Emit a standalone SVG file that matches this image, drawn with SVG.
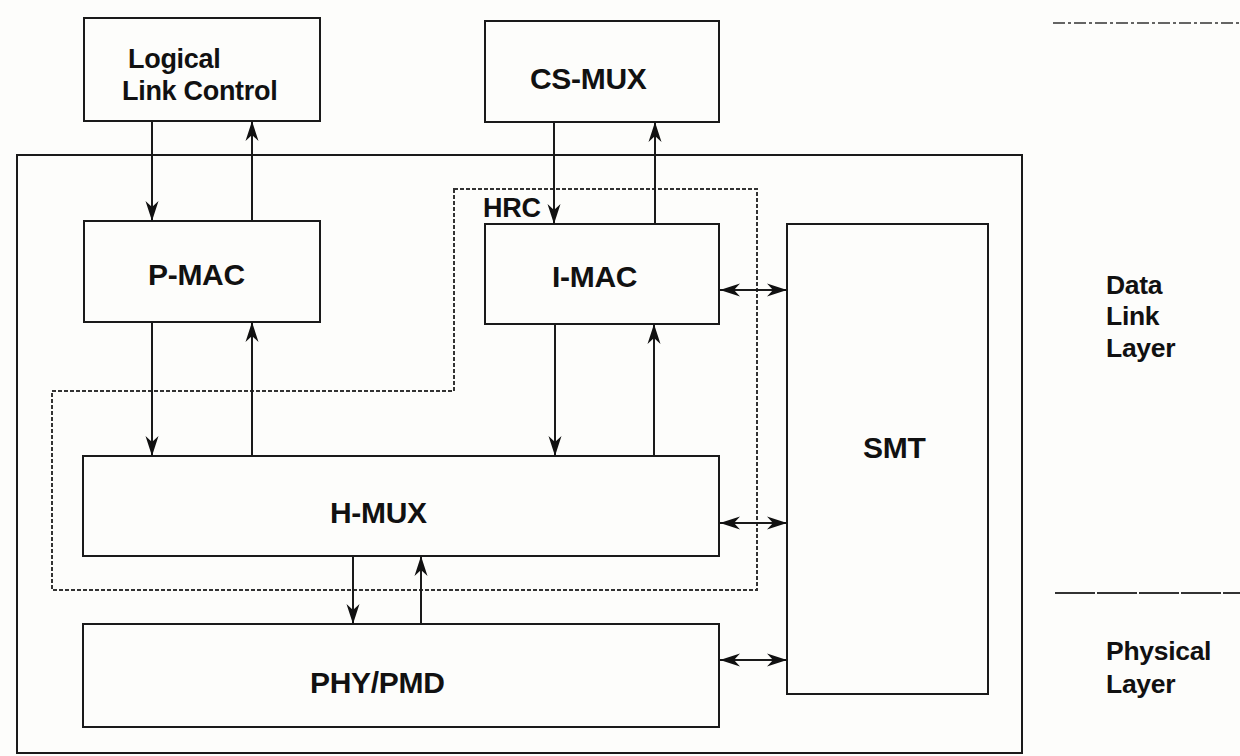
<svg xmlns="http://www.w3.org/2000/svg" width="1240" height="756" viewBox="0 0 1240 756">
<style>
.box{fill:none;stroke:#1a1a1a;stroke-width:2}
.lbl{font-family:"Liberation Sans",Arial,sans-serif;font-weight:bold;font-size:30px;fill:#111;letter-spacing:-0.3px}
.sm{font-size:27px}
.side{font-size:26.5px}
.con{stroke:#1a1a1a;stroke-width:2;fill:none}
.hrc{fill:none;stroke:#333;stroke-width:2;stroke-dasharray:4 2}
</style>
<defs>
<marker id="ah" markerUnits="userSpaceOnUse" markerWidth="22" markerHeight="16" refX="20" refY="8" orient="auto-start-reverse">
<path d="M0,1.5 L20,8 L0,14.5 L6,8 z" fill="#111"/>
</marker>
</defs>
<rect width="1240" height="756" fill="#fdfdfb"/>
<g id="layer-lines">
<line x1="1053" y1="23" x2="1240" y2="23" stroke="#333" stroke-width="1.5" stroke-dasharray="12 3 3 3"/>
<line x1="1055" y1="593" x2="1240" y2="593" stroke="#333" stroke-width="2" stroke-dasharray="40 2"/>
</g>
<g id="outer"><rect class="box" x="17" y="155" width="1005" height="598"/></g>
<g id="hrc">
<path class="hrc" d="M454,189 H757 V590 H52 V391 H454 Z"/>
<text class="lbl sm" x="483" y="217">HRC</text>
</g>
<g id="llc"><rect class="box" x="84" y="18" width="236" height="103"/>
<text class="lbl sm" x="128" y="68">Logical</text><text class="lbl sm" x="122" y="100">Link Control</text></g>
<g id="csmux"><rect class="box" x="485" y="21" width="234" height="101"/>
<text class="lbl" x="530" y="89">CS-MUX</text></g>
<g id="pmac"><rect class="box" x="84" y="221" width="236" height="101"/>
<text class="lbl" x="148" y="285">P-MAC</text></g>
<g id="imac"><rect class="box" x="485" y="224" width="234" height="100"/>
<text class="lbl" x="552" y="287">I-MAC</text></g>
<g id="smt"><rect class="box" x="787" y="224" width="201" height="470"/>
<text class="lbl" x="863" y="458">SMT</text></g>
<g id="hmux"><rect class="box" x="83" y="456" width="636" height="100"/>
<text class="lbl" x="330" y="523">H-MUX</text></g>
<g id="phy"><rect class="box" x="83" y="624" width="636" height="103"/>
<text class="lbl" x="310" y="693">PHY/PMD</text></g>
<g id="dll-label"><text class="lbl side" x="1106" y="294">Data</text><text class="lbl side" x="1106" y="325">Link</text><text class="lbl side" x="1106" y="357">Layer</text></g>
<g id="phys-label"><text class="lbl side" x="1106" y="660">Physical</text><text class="lbl side" x="1106" y="693">Layer</text></g>
<g id="connectors">
<line class="con" x1="152" y1="121" x2="152" y2="221" marker-end="url(#ah)"/>
<line class="con" x1="252" y1="221" x2="252" y2="121" marker-end="url(#ah)"/>
<line class="con" x1="554" y1="122" x2="554" y2="224" marker-end="url(#ah)"/>
<line class="con" x1="655" y1="224" x2="655" y2="122" marker-end="url(#ah)"/>
<line class="con" x1="152" y1="322" x2="152" y2="456" marker-end="url(#ah)"/>
<line class="con" x1="252" y1="456" x2="252" y2="322" marker-end="url(#ah)"/>
<line class="con" x1="555" y1="324" x2="555" y2="456" marker-end="url(#ah)"/>
<line class="con" x1="654" y1="456" x2="654" y2="324" marker-end="url(#ah)"/>
<line class="con" x1="353" y1="556" x2="353" y2="624" marker-end="url(#ah)"/>
<line class="con" x1="421" y1="624" x2="421" y2="556" marker-end="url(#ah)"/>
<line class="con" x1="720" y1="290" x2="787" y2="290" marker-start="url(#ah)" marker-end="url(#ah)"/>
<line class="con" x1="720" y1="523" x2="787" y2="523" marker-start="url(#ah)" marker-end="url(#ah)"/>
<line class="con" x1="720" y1="660" x2="787" y2="660" marker-start="url(#ah)" marker-end="url(#ah)"/>
</g>
</svg>
